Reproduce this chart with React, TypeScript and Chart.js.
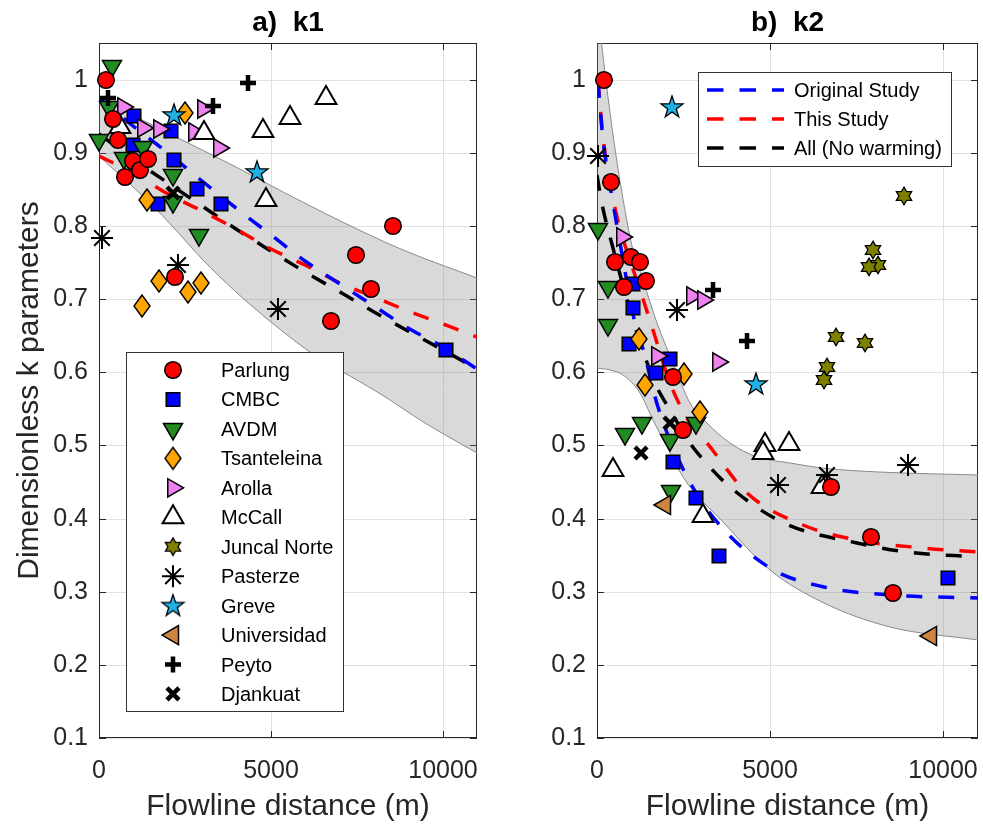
import React, { useEffect, useRef } from 'react';
import { Chart, registerables } from 'chart.js';
import { drawPoint } from 'chart.js/helpers';

Chart.register(...registerables);

const FONT = "'Liberation Sans', Arial, Helvetica, sans-serif";
const TEXT = '#262626';

// ---------- axes ----------
const xTicks = [0, 5000, 10000];
const yTicks = [0.1, 0.2, 0.3, 0.4, 0.5, 0.6, 0.7, 0.8, 0.9, 1];
const xRange = [0, 11000];
const yRange = [0.1, 1.05];

const panelTitles = ['a)  k1', 'b)  k2'];
const xTitle = 'Flowline distance (m)';
const yTitle = 'Dimensionless k parameters';

const glaciers = ['Parlung', 'CMBC', 'AVDM', 'Tsanteleina', 'Arolla', 'McCall', 'Juncal Norte', 'Pasterze', 'Greve', 'Universidad', 'Peyto', 'Djankuat'];
const fitNames = ['Original Study', 'This Study', 'All (No warming)'];
const fitColors = ['#0000ff', '#ff0000', '#000000'];

type P = [number, number];

// ---------- panel a (k1) ----------
const k1Parlung: P[] = [[200, 1.0], [400, 0.946], [550, 0.917], [750, 0.867], [985, 0.889], [1190, 0.877], [1420, 0.892], [2200, 0.73], [6750, 0.67], [7480, 0.76], [7910, 0.714], [8550, 0.8]];
const k1CMBC: P[] = [[1010, 0.95], [2090, 0.93], [980, 0.911], [2170, 0.89], [2840, 0.85], [1710, 0.83], [3540, 0.83], [10100, 0.63]];
const k1AVDM: P[] = [[380, 1.018], [290, 0.963], [0, 0.918], [720, 0.893], [1280, 0.908], [2150, 0.869], [2150, 0.832], [2900, 0.788]];
const k1Tsanteleina: P[] = [[2510, 0.955], [1390, 0.836], [1240, 0.691], [1740, 0.724], [2600, 0.709], [2980, 0.722]];
const k1Arolla: P[] = [[700, 0.963], [1280, 0.934], [1740, 0.933], [2750, 0.929], [3040, 0.96], [3500, 0.907]];
const k1McCall: P[] = [[620, 0.935], [3070, 0.927], [4780, 0.93], [4870, 0.836], [5550, 0.948], [6610, 0.975]];
const k1Juncal: P[] = [];
const k1Pasterze: P[] = [[90, 0.784], [2310, 0.747], [5200, 0.687]];
const k1Greve: P[] = [[2170, 0.952], [4610, 0.874]];
const k1Universidad: P[] = [];
const k1Peyto: P[] = [[260, 0.975], [4350, 0.996], [3330, 0.964]];
const k1Djankuat: P[] = [[2150, 0.845]];

const k1Original: P[] = [[0, 0.975], [1000, 0.937], [2000, 0.899], [3000, 0.862], [4000, 0.824], [5000, 0.787], [6000, 0.752], [7000, 0.72], [8000, 0.69], [9000, 0.661], [10000, 0.634], [11000, 0.605]];
const k1This: P[] = [[0, 0.896], [1000, 0.872], [2000, 0.843], [3000, 0.82], [4000, 0.796], [5000, 0.768], [6000, 0.746], [7000, 0.722], [8000, 0.703], [9000, 0.684], [10000, 0.666], [11000, 0.648]];
const k1All: P[] = [[0, 0.925], [1000, 0.892], [2000, 0.859], [3000, 0.827], [4000, 0.796], [5000, 0.766], [6000, 0.737], [7000, 0.709], [8000, 0.682], [9000, 0.656], [10000, 0.63], [11000, 0.605]];
const k1BandUpper: P[] = [[0, 0.975], [2000, 0.927], [4000, 0.88], [5400, 0.845], [7570, 0.795], [9000, 0.765], [11000, 0.729]];
const k1BandLower: P[] = [[0, 0.895], [1500, 0.83], [2170, 0.797], [3000, 0.755], [4000, 0.71], [5000, 0.668], [6130, 0.628], [7090, 0.6], [8150, 0.572], [9500, 0.53], [11000, 0.49]];

// ---------- panel b (k2) ----------
const k2Parlung: P[] = [[200, 1.0], [400, 0.86], [520, 0.75], [980, 0.757], [1240, 0.75], [1420, 0.725], [780, 0.717], [2200, 0.594], [2490, 0.521], [6770, 0.443], [7920, 0.375], [8560, 0.298]];
const k2CMBC: P[] = [[1040, 0.72], [1040, 0.688], [930, 0.639], [2110, 0.618], [1710, 0.599], [2200, 0.477], [2860, 0.428], [3530, 0.349], [10120, 0.319]];
const k2AVDM: P[] = [[30, 0.796], [320, 0.717], [320, 0.665], [1300, 0.53], [810, 0.515], [2110, 0.507], [2860, 0.53], [2140, 0.437]];
const k2Tsanteleina: P[] = [[1220, 0.645], [2510, 0.597], [1390, 0.583], [2980, 0.545]];
const k2Arolla: P[] = [[720, 0.785], [2750, 0.704], [3060, 0.699], [1730, 0.622], [3500, 0.614]];
const k2McCall: P[] = [[460, 0.466], [4860, 0.5], [4800, 0.49], [5530, 0.502], [3060, 0.404], [6500, 0.443]];
const k2Juncal: P[] = [[8860, 0.841], [7970, 0.767], [8100, 0.747], [7850, 0.744], [6890, 0.648], [7740, 0.64], [6650, 0.607], [6540, 0.59]];
const k2Pasterze: P[] = [[30, 0.895], [2310, 0.685], [8990, 0.473], [6640, 0.46], [5220, 0.446]];
const k2Greve: P[] = [[2170, 0.963], [4600, 0.584]];
const k2Universidad: P[] = [[1970, 0.419], [9640, 0.24]];
const k2Peyto: P[] = [[3360, 0.713], [4340, 0.643]];
const k2Djankuat: P[] = [[1270, 0.49], [2110, 0.53]];

const k2Original: P[] = [[30, 0.997], [170, 0.918], [430, 0.84], [670, 0.777], [1100, 0.667], [1330, 0.632], [1770, 0.553], [2500, 0.465], [3350, 0.402], [5000, 0.332], [6540, 0.306], [8470, 0.295], [11000, 0.291]];
const k2This: P[] = [[30, 1.0], [170, 0.922], [580, 0.812], [1000, 0.745], [1330, 0.7], [1620, 0.658], [2110, 0.585], [2690, 0.531], [3180, 0.503], [4340, 0.435], [5960, 0.391], [7510, 0.371], [9420, 0.36], [11000, 0.354]];
const k2All: P[] = [[0, 0.87], [150, 0.83], [460, 0.77], [1040, 0.672], [1680, 0.585], [2110, 0.549], [2690, 0.503], [3180, 0.475], [3850, 0.443], [5390, 0.394], [7510, 0.367], [8960, 0.354], [11000, 0.348]];
const k2BandUpper: P[] = [[0, 1.12], [140, 1.045], [950, 0.785], [1330, 0.726], [1730, 0.667], [2200, 0.613], [2690, 0.558], [3180, 0.531], [3850, 0.503], [4620, 0.484], [5580, 0.476], [6500, 0.469], [8150, 0.463], [11000, 0.46]];
const k2BandLower: P[] = [[0, 0.606], [380, 0.603], [750, 0.596], [1240, 0.572], [1620, 0.535], [2020, 0.498], [2550, 0.453], [3640, 0.395], [5000, 0.33], [6540, 0.285], [8470, 0.252], [11000, 0.234]];

const k1Markers: Record<string, P[]> = {
  Parlung: k1Parlung, CMBC: k1CMBC, AVDM: k1AVDM, Tsanteleina: k1Tsanteleina, Arolla: k1Arolla, McCall: k1McCall,
  'Juncal Norte': k1Juncal, Pasterze: k1Pasterze, Greve: k1Greve, Universidad: k1Universidad, Peyto: k1Peyto, Djankuat: k1Djankuat,
};
const k2Markers: Record<string, P[]> = {
  Parlung: k2Parlung, CMBC: k2CMBC, AVDM: k2AVDM, Tsanteleina: k2Tsanteleina, Arolla: k2Arolla, McCall: k2McCall,
  'Juncal Norte': k2Juncal, Pasterze: k2Pasterze, Greve: k2Greve, Universidad: k2Universidad, Peyto: k2Peyto, Djankuat: k2Djankuat,
};

// draw order: first = on top
const drawOrder = ['Parlung', 'Djankuat', 'Peyto', 'Universidad', 'Greve', 'Pasterze', 'Juncal Norte', 'McCall', 'Arolla', 'Tsanteleina', 'AVDM', 'CMBC'];

type Style = { pointStyle: any; radius: number; rotation: number; bg: string; bw: number };

function shapeCanvas(w: number, h: number, draw: (g: CanvasRenderingContext2D) => void) {
  const c = document.createElement('canvas');
  c.width = w;
  c.height = h;
  const g = c.getContext('2d')!;
  draw(g);
  return c;
}

function starPath(g: CanvasRenderingContext2D, cx: number, cy: number, n: number, R: number, r: number) {
  g.beginPath();
  for (let i = 0; i < n * 2; i++) {
    const ang = -Math.PI / 2 + (i * Math.PI) / n;
    const rr = i % 2 === 0 ? R : r;
    const px = cx + rr * Math.cos(ang);
    const py = cy + rr * Math.sin(ang);
    if (i === 0) g.moveTo(px, py);
    else g.lineTo(px, py);
  }
  g.closePath();
}

function makeStyles(): Record<string, Style> {
  const diamond = shapeCanvas(20, 26, (g) => {
    g.beginPath();
    g.moveTo(10, 2);
    g.lineTo(18, 13);
    g.lineTo(10, 24);
    g.lineTo(2, 13);
    g.closePath();
    g.fillStyle = '#ffa500';
    g.fill();
    g.lineWidth = 1.4;
    g.strokeStyle = '#000';
    g.stroke();
  });
  const pentagram = shapeCanvas(26, 26, (g) => {
    starPath(g, 13, 13.5, 5, 11.5, 4.5);
    g.fillStyle = '#1fb1e6';
    g.fill();
    g.lineWidth = 1.3;
    g.strokeStyle = '#000';
    g.stroke();
  });
  const hexagram = shapeCanvas(22, 22, (g) => {
    starPath(g, 11, 11, 6, 8.8, 5.1);
    g.fillStyle = '#808000';
    g.fill();
    g.lineWidth = 1.3;
    g.strokeStyle = '#000';
    g.stroke();
  });
  return {
    Parlung: { pointStyle: 'circle', radius: 8.3, rotation: 0, bg: '#ff0000', bw: 1.5 },
    CMBC: { pointStyle: 'rect', radius: 9.6, rotation: 0, bg: '#0000ff', bw: 1.5 },
    AVDM: { pointStyle: 'triangle', radius: 11, rotation: 180, bg: '#228b22', bw: 1.5 },
    Tsanteleina: { pointStyle: diamond, radius: 10, rotation: 0, bg: '#ffa500', bw: 1.4 },
    Arolla: { pointStyle: 'triangle', radius: 10.5, rotation: 90, bg: '#ee82ee', bw: 1.5 },
    McCall: { pointStyle: 'triangle', radius: 12, rotation: 0, bg: '#ffffff', bw: 2 },
    'Juncal Norte': { pointStyle: hexagram, radius: 9, rotation: 0, bg: '#808000', bw: 1.3 },
    Pasterze: { pointStyle: 'star', radius: 11, rotation: 0, bg: 'rgba(0,0,0,0)', bw: 2 },
    Greve: { pointStyle: pentagram, radius: 11, rotation: 0, bg: '#1fb1e6', bw: 1.3 },
    Universidad: { pointStyle: 'triangle', radius: 11, rotation: 270, bg: '#cd853f', bw: 1.5 },
    Peyto: { pointStyle: 'cross', radius: 8, rotation: 0, bg: 'rgba(0,0,0,0)', bw: 4.5 },
    Djankuat: { pointStyle: 'crossRot', radius: 8.5, rotation: 0, bg: 'rgba(0,0,0,0)', bw: 4.5 },
  };
}

const toXY = (pts: P[]) => pts.map(([x, y]) => ({ x, y }));

const framePlugin = {
  id: 'frameTicks',
  beforeDatasetsDraw(chart: any) {
    const { ctx, chartArea: a, scales } = chart;
    ctx.save();
    ctx.strokeStyle = TEXT;
    ctx.lineWidth = 1;
    ctx.strokeRect(a.left + 0.5, a.top + 0.5, a.right - a.left - 1, a.bottom - a.top - 1);
    const L = 7;
    ctx.beginPath();
    for (const v of xTicks) {
      const px = Math.round(scales.x.getPixelForValue(v)) + 0.5;
      ctx.moveTo(px, a.bottom);
      ctx.lineTo(px, a.bottom - L);
      ctx.moveTo(px, a.top);
      ctx.lineTo(px, a.top + L);
    }
    for (const v of yTicks) {
      const py = Math.round(scales.y.getPixelForValue(v)) + 0.5;
      ctx.moveTo(a.left, py);
      ctx.lineTo(a.left + L, py);
      ctx.moveTo(a.right, py);
      ctx.lineTo(a.right - L, py);
    }
    ctx.stroke();
    ctx.restore();
  },
};

function titlePlugin(text: string) {
  return {
    id: 'panelTitle',
    afterDraw(chart: any) {
      const { ctx, chartArea: a } = chart;
      ctx.save();
      ctx.font = `bold 28px ${FONT}`;
      ctx.fillStyle = '#000';
      ctx.textAlign = 'center';
      ctx.textBaseline = 'alphabetic';
      ctx.fillText(text, (a.left + a.right) / 2, 31);
      ctx.restore();
    },
  };
}

function glacierLegendPlugin(styles: Record<string, Style>) {
  return {
    id: 'glacierLegend',
    afterDatasetsDraw(chart: any) {
      const { ctx, chartArea: a } = chart;
      const L = a.left + 27;
      const T = a.top + 309;
      const W = 218;
      const H = 360;
      ctx.save();
      ctx.fillStyle = '#fff';
      ctx.fillRect(L, T, W, H);
      ctx.strokeStyle = '#333';
      ctx.lineWidth = 1;
      ctx.strokeRect(L + 0.5, T + 0.5, W - 1, H - 1);
      glaciers.forEach((name, i) => {
        const y = T + 18 + i * 29.45;
        const s = styles[name];
        ctx.save();
        ctx.fillStyle = s.bg;
        ctx.strokeStyle = '#000';
        ctx.lineWidth = s.bw;
        drawPoint(ctx, { pointStyle: s.pointStyle, rotation: s.rotation, radius: s.radius, borderWidth: s.bw } as any, L + 47, y);
        ctx.restore();
        ctx.fillStyle = '#000';
        ctx.font = `20px ${FONT}`;
        ctx.textAlign = 'left';
        ctx.textBaseline = 'alphabetic';
        ctx.fillText(name, L + 95, y + 7);
      });
      ctx.restore();
    },
  };
}

const fitLegendPlugin = {
  id: 'fitLegend',
  afterDatasetsDraw(chart: any) {
    const { ctx, chartArea: a } = chart;
    const L = a.left + 101;
    const T = a.top + 29;
    const W = 254;
    const H = 95;
    ctx.save();
    ctx.fillStyle = '#fff';
    ctx.fillRect(L, T, W, H);
    ctx.strokeStyle = '#333';
    ctx.lineWidth = 1;
    ctx.strokeRect(L + 0.5, T + 0.5, W - 1, H - 1);
    fitNames.forEach((name, i) => {
      const y = T + 18 + i * 29;
      ctx.save();
      ctx.strokeStyle = fitColors[i];
      ctx.lineWidth = 3.5;
      ctx.setLineDash([16.5, 16]);
      ctx.beginPath();
      ctx.moveTo(a.left + 110, y);
      ctx.lineTo(a.left + 187, y);
      ctx.stroke();
      ctx.restore();
      ctx.fillStyle = '#000';
      ctx.font = `20px ${FONT}`;
      ctx.textAlign = 'left';
      ctx.textBaseline = 'alphabetic';
      ctx.fillText(name, a.left + 197, y + 7);
    });
    ctx.restore();
  },
};

function buildConfig(p: {
  markers: Record<string, P[]>;
  fits: P[][];
  bandUpper: P[];
  bandLower: P[];
  yAxisWidth: number;
  padRight: number;
  showYTitle: boolean;
  styles: Record<string, Style>;
  plugins: any[];
}): any {
  const markerSets = drawOrder.map((name) => {
    const s = p.styles[name];
    return {
      type: 'scatter',
      label: name,
      data: toXY(p.markers[name]),
      pointStyle: s.pointStyle,
      pointRadius: s.radius,
      pointRotation: s.rotation,
      pointBackgroundColor: s.bg,
      pointBorderColor: '#000',
      pointBorderWidth: s.bw,
      showLine: false,
      clip: false,
    };
  });
  const fitSets = p.fits.map((pts, i) => ({
    type: 'line',
    label: fitNames[i],
    data: toXY(pts),
    borderColor: fitColors[i],
    borderWidth: 3.5,
    borderDash: [16, 16],
    pointRadius: 0,
    fill: false,
    cubicInterpolationMode: 'monotone',
  }));
  const bandSets = [
    {
      type: 'line',
      label: 'band upper',
      data: toXY(p.bandUpper),
      borderColor: '#8a8a8a',
      borderWidth: 1,
      pointRadius: 0,
      fill: '+1',
      backgroundColor: 'rgba(130,130,130,0.3)',
      cubicInterpolationMode: 'monotone',
    },
    {
      type: 'line',
      label: 'band lower',
      data: toXY(p.bandLower),
      borderColor: '#8a8a8a',
      borderWidth: 1,
      pointRadius: 0,
      fill: false,
      cubicInterpolationMode: 'monotone',
    },
  ];
  const zeroPad = (ax: any) => {
    ax.paddingLeft = 0;
    ax.paddingRight = 0;
    ax.paddingTop = 0;
    ax.paddingBottom = 0;
  };
  return {
    type: 'scatter',
    data: { datasets: [...markerSets, ...fitSets, ...bandSets] },
    options: {
      animation: false,
      responsive: false,
      devicePixelRatio: 1,
      events: [],
      layout: { autoPadding: false, padding: { top: 43, right: p.padRight, left: 0, bottom: 0 } },
      plugins: { legend: { display: false }, tooltip: { enabled: false } },
      scales: {
        x: {
          type: 'linear',
          min: xRange[0],
          max: xRange[1],
          alignToPixels: true,
          afterBuildTicks: (ax: any) => {
            ax.ticks = xTicks.map((v) => ({ value: v }));
          },
          afterFit: (ax: any) => {
            ax.height = 91;
            zeroPad(ax);
          },
          grid: { color: '#e1e1e1', lineWidth: 1, drawTicks: false },
          border: { display: false },
          ticks: {
            padding: 18,
            autoSkip: false,
            maxRotation: 0,
            font: { family: FONT, size: 25 },
            color: TEXT,
            callback: (v: any) => String(v),
          },
          title: {
            display: true,
            text: xTitle,
            font: { family: FONT, size: 30 },
            color: TEXT,
            padding: { top: 0, bottom: 4 },
          },
        },
        y: {
          type: 'linear',
          min: yRange[0],
          max: yRange[1],
          alignToPixels: true,
          afterBuildTicks: (ax: any) => {
            ax.ticks = yTicks.map((v) => ({ value: v }));
          },
          afterFit: (ax: any) => {
            ax.width = p.yAxisWidth;
            zeroPad(ax);
          },
          grid: { color: '#e1e1e1', lineWidth: 1, drawTicks: false },
          border: { display: false },
          ticks: {
            padding: 11,
            autoSkip: false,
            font: { family: FONT, size: 25 },
            color: TEXT,
            callback: (v: any) => String(v),
          },
          title: {
            display: p.showYTitle,
            text: yTitle,
            font: { family: FONT, size: 30 },
            color: TEXT,
            padding: { top: 12, bottom: 0 },
          },
        },
      },
    },
    plugins: [framePlugin, ...p.plugins],
  };
}

export default function App() {
  const refA = useRef<HTMLCanvasElement>(null);
  const refB = useRef<HTMLCanvasElement>(null);

  useEffect(() => {
    const styles = makeStyles();
    const chartA = new Chart(
      refA.current!,
      buildConfig({
        markers: k1Markers,
        fits: [k1Original, k1This, k1All],
        bandUpper: k1BandUpper,
        bandLower: k1BandLower,
        yAxisWidth: 99,
        padRight: 13,
        showYTitle: true,
        styles,
        plugins: [titlePlugin(panelTitles[0]), glacierLegendPlugin(styles)],
      })
    );
    const chartB = new Chart(
      refB.current!,
      buildConfig({
        markers: k2Markers,
        fits: [k2Original, k2This, k2All],
        bandUpper: k2BandUpper,
        bandLower: k2BandLower,
        yAxisWidth: 107,
        padRight: 5,
        showYTitle: false,
        styles,
        plugins: [titlePlugin(panelTitles[1]), fitLegendPlugin],
      })
    );
    return () => {
      chartA.destroy();
      chartB.destroy();
    };
  }, []);

  return (
    <div style={{ position: 'absolute', left: 0, top: 0, width: 983, height: 829, background: '#fff' }}>
      <canvas ref={refA} width={490} height={829} style={{ position: 'absolute', left: 0, top: 0, width: 490, height: 829 }} />
      <canvas ref={refB} width={493} height={829} style={{ position: 'absolute', left: 490, top: 0, width: 493, height: 829 }} />
    </div>
  );
}
